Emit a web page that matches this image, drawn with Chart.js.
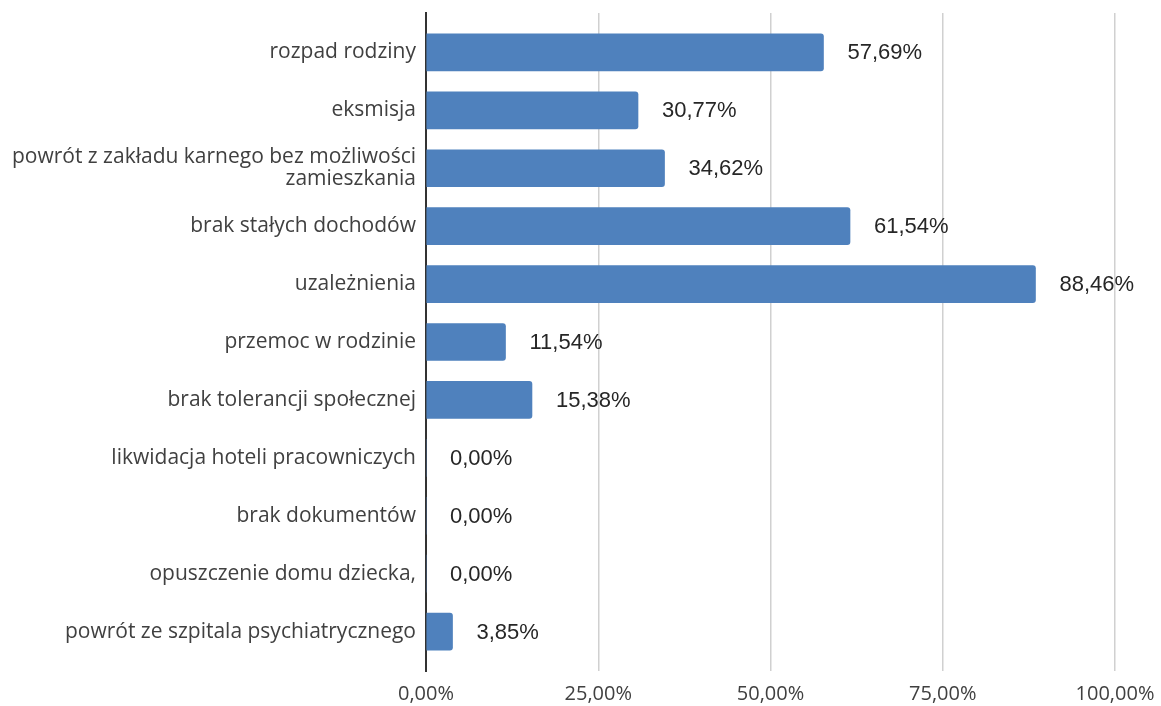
<!DOCTYPE html>
<html>
<head>
<meta charset="utf-8">
<script src="https://cdn.jsdelivr.net/npm/chart.js@4"></script>
<style>
  html, body { margin: 0; padding: 0; background: #fff; }
  #wrap { width: 1161px; height: 706px; }
</style>
</head>
<body>
<div id="wrap"><canvas id="chart"></canvas></div>
<script>
// categories and values
const categories = [
  "rozpad rodziny",
  "eksmisja",
  ["powrót z zakładu karnego bez możliwości", "zamieszkania"],
  "brak stałych dochodów",
  "uzależnienia",
  "przemoc w rodzinie",
  "brak tolerancji społecznej",
  "likwidacja hoteli pracowniczych",
  "brak dokumentów",
  "opuszczenie domu dziecka,",
  "powrót ze szpitala psychiatrycznego"
];
const values = [57.69, 30.77, 34.62, 61.54, 88.46, 11.54, 15.38, 0, 0, 0, 3.85];
const tickValues = [0, 25, 50, 75, 100];

const fmt = v => v.toFixed(2).replace('.', ',') + '%';

// draws the value next to each bar
const valueLabels = {
  id: 'valueLabels',
  afterDatasetsDraw(chart) {
    const ctx = chart.ctx;
    const meta = chart.getDatasetMeta(0);
    ctx.save();
    ctx.font = '22px "Liberation Sans", Arial, sans-serif';
    ctx.fillStyle = '#262626';
    ctx.textAlign = 'left';
    ctx.textBaseline = 'middle';
    meta.data.forEach((bar, i) => {
      ctx.fillText(fmt(values[i]), bar.x + 24, bar.y + 1);
    });
    ctx.restore();
  }
};

new Chart(document.getElementById('chart'), {
  type: 'bar',
  data: {
    labels: categories,
    datasets: [{
      data: values,
      backgroundColor: '#4F81BD',
      borderRadius: 3,
      barThickness: 37
    }]
  },
  options: {
    indexAxis: 'y',
    responsive: true,
    maintainAspectRatio: false,
    animation: false,
    layout: { padding: { top: 13, right: 46, left: 0, bottom: 0 } },
    plugins: {
      legend: { display: false },
      tooltip: { enabled: false }
    },
    scales: {
      x: {
        min: 0,
        max: 100,
        afterBuildTicks(scale) {
          scale.ticks = tickValues.map(v => ({ value: v }));
        },
        afterFit(scale) {
          scale.height = 35;
          scale.paddingLeft = 0;
          scale.paddingRight = 0;
        },
        border: { display: false },
        grid: {
          color: '#d0d0d0',
          lineWidth: 1.5,
          drawTicks: false
        },
        ticks: {
          padding: 11,
          color: '#404040',
          font: { family: '"Open Sans", "Noto Sans", sans-serif', size: 20 },
          callback: v => fmt(v)
        }
      },
      y: {
        // a bit more room above the first and below the last bar
        afterBuildTicks(scale) {
          scale._startValue = -0.68;
          scale._valueRange = categories.length - 1 + 1.36;
        },
        afterFit(scale) {
          scale.width = 426;
          scale.paddingTop = 0;
          scale.paddingBottom = 0;
        },
        grid: { display: false, drawTicks: false },
        border: { display: true, color: '#333333', width: 2 },
        ticks: {
          padding: 10,
          color: '#404040',
          font: { family: '"Open Sans", "Noto Sans", sans-serif', size: 21, lineHeight: 1.05 }
        }
      }
    }
  },
  plugins: [valueLabels]
});
</script>
</body>
</html>
